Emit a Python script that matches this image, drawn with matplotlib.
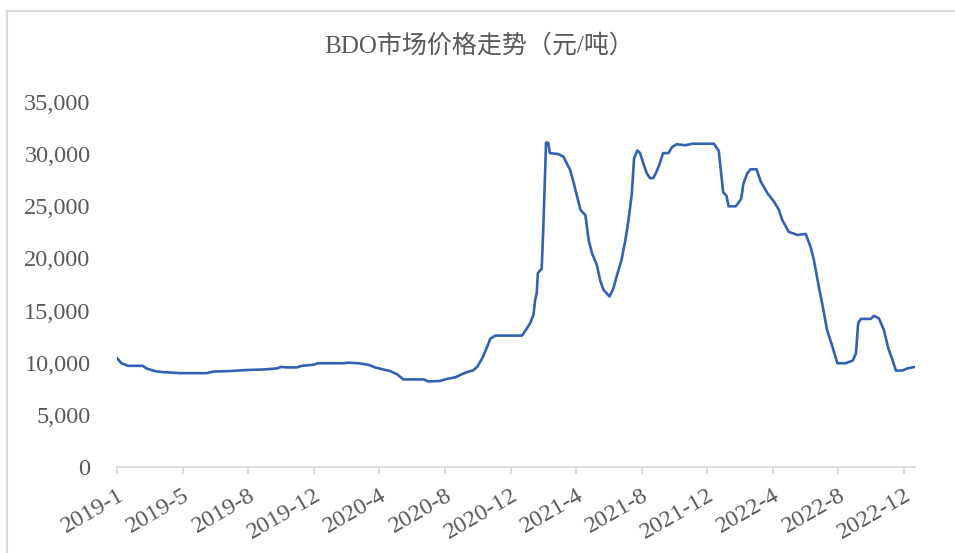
import numpy as np
import pandas as pd
import matplotlib.pyplot as plt
from matplotlib.patches import Rectangle
from matplotlib.ticker import FuncFormatter

# BDO price, yuan/ton
dates = [
    "2019-01-01", "2019-01-09", "2019-01-21", "2019-02-17", "2019-02-24", "2019-03-11",
    "2019-03-26", "2019-04-26", "2019-06-14", "2019-06-26", "2019-07-27", "2019-08-26",
    "2019-09-26", "2019-10-20", "2019-10-29", "2019-11-07", "2019-11-26", "2019-12-05",
    "2019-12-26", "2020-01-04", "2020-02-19", "2020-02-28", "2020-03-18", "2020-04-05",
    "2020-04-17", "2020-05-02", "2020-05-15", "2020-05-27", "2020-06-08", "2020-07-15",
    "2020-07-24", "2020-08-14", "2020-08-27", "2020-09-11", "2020-09-23", "2020-10-05",
    "2020-10-13", "2020-10-21", "2020-10-30", "2020-11-08", "2020-11-14", "2020-11-23",
    "2021-01-11", "2021-01-20", "2021-01-26", "2021-02-01", "2021-02-04", "2021-02-07",
    "2021-02-09", "2021-02-16", "2021-02-19", "2021-02-24", "2021-02-28", "2021-03-03",
    "2021-03-19", "2021-03-28", "2021-04-03", "2021-04-09", "2021-04-15", "2021-04-22",
    "2021-04-28", "2021-05-07", "2021-05-13", "2021-05-19", "2021-05-28", "2021-06-03",
    "2021-06-09", "2021-06-20", "2021-06-27", "2021-07-03", "2021-07-12", "2021-07-18",
    "2021-07-24", "2021-07-31", "2021-08-04", "2021-08-10", "2021-08-15", "2021-08-21",
    "2021-08-27", "2021-09-02", "2021-09-08", "2021-09-14", "2021-09-20", "2021-09-26",
    "2021-10-06", "2021-10-12", "2021-10-21", "2021-11-06", "2021-11-18", "2021-12-28",
    "2022-01-06", "2022-01-14", "2022-01-20", "2022-01-24", "2022-02-06", "2022-02-16",
    "2022-02-20", "2022-02-27", "2022-03-05", "2022-03-16", "2022-03-24", "2022-04-05",
    "2022-04-17", "2022-04-26", "2022-05-02", "2022-05-14", "2022-05-30", "2022-06-14",
    "2022-06-23", "2022-06-29", "2022-07-08", "2022-07-17", "2022-07-23", "2022-08-01",
    "2022-08-11", "2022-08-26", "2022-09-08", "2022-09-14", "2022-09-18", "2022-09-23",
    "2022-10-11", "2022-10-17", "2022-10-26", "2022-11-04", "2022-11-12", "2022-11-20",
    "2022-11-26", "2022-12-08", "2022-12-17", "2022-12-31",
]
prices = [
    10450, 9950, 9700, 9700, 9450, 9200,
    9100, 9000, 9000, 9150, 9200, 9300,
    9350, 9450, 9600, 9550, 9550, 9700,
    9800, 9950, 9950, 10000, 9950, 9800,
    9550, 9350, 9200, 8900, 8400, 8400,
    8200, 8250, 8450, 8600, 8900, 9150,
    9250, 9600, 10400, 11500, 12300, 12600,
    12600, 13300, 13800, 14600, 16000, 16700,
    18600, 19000, 23000, 31100, 31100, 30100,
    30000, 29750, 29100, 28500, 27350, 25900,
    24650, 24150, 21750, 20500, 19350, 17900,
    17000, 16350, 17100, 18250, 19850, 21450,
    23350, 26250, 29600, 30350, 30100, 29100,
    28200, 27700, 27700, 28300, 29100, 30100,
    30100, 30650, 30950, 30850, 31000, 31000,
    30300, 26350, 26000, 25000, 25000, 25700,
    27150, 28150, 28550, 28550, 27350, 26250,
    25450, 24650, 23700, 22550, 22250, 22350,
    21100, 19850, 17300, 14900, 13150, 11700,
    9950, 9950, 10200, 10900, 13800, 14200,
    14200, 14500, 14250, 13150, 11400, 10250,
    9250, 9250, 9450, 9600,
]

tick_labels = ["2019-1", "2019-5", "2019-8", "2019-12", "2020-4", "2020-8", "2020-12",
               "2021-4", "2021-8", "2021-12", "2022-4", "2022-8", "2022-12"]
title = "BDO市场价格走势（元/吨）"

x = pd.to_datetime(dates)
# Excel-style date axis: one major tick every 120 days
ticks = pd.date_range("2019-01-01", periods=len(tick_labels), freq="120D")

txt = "#595959"
plt.rcParams["font.family"] = ["Liberation Serif", "Noto Sans CJK SC"]

fig = plt.figure(figsize=(9.55, 5.53), dpi=100)
ax = fig.add_axes([117 / 955, 1 - 467 / 553, (915 - 117) / 955, (467 - 102) / 553])

ax.plot(x, prices, color="#3461B0", lw=1.9, solid_joinstyle="round")

ax.set_xlim(pd.Timestamp("2019-01-01"), pd.Timestamp("2022-12-31"))
ax.set_ylim(0, 35000)
ax.set_yticks(np.arange(0, 35001, 5000))
ax.yaxis.set_major_formatter(FuncFormatter(lambda v, p: f"{int(v):,}"))
ax.set_xticks(ticks)
ax.set_xticklabels(tick_labels, rotation=30, ha="right", rotation_mode="anchor")

for s in ["top", "right", "left"]:
    ax.spines[s].set_visible(False)
ax.spines["bottom"].set_color("#D9D9D9")
ax.spines["bottom"].set_linewidth(1.3)

ax.tick_params(axis="y", length=0, pad=19, labelsize=17.5, labelcolor=txt)
ax.tick_params(axis="x", length=5, width=1.3, color="#D9D9D9", pad=8,
               labelsize=17.5, labelcolor=txt)

fig.text(0.502, 1 - 46 / 553, title, ha="center", va="center", fontsize=18, color=txt)

# chart border (cropped at right and bottom)
fig.patches.append(Rectangle((7 / 955, -0.2), 1.2, 1.2 - 11 / 553,
                             transform=fig.transFigure, fill=False,
                             edgecolor="#D9D9D9", lw=1.5))

fig.savefig("out.png", dpi=100)
